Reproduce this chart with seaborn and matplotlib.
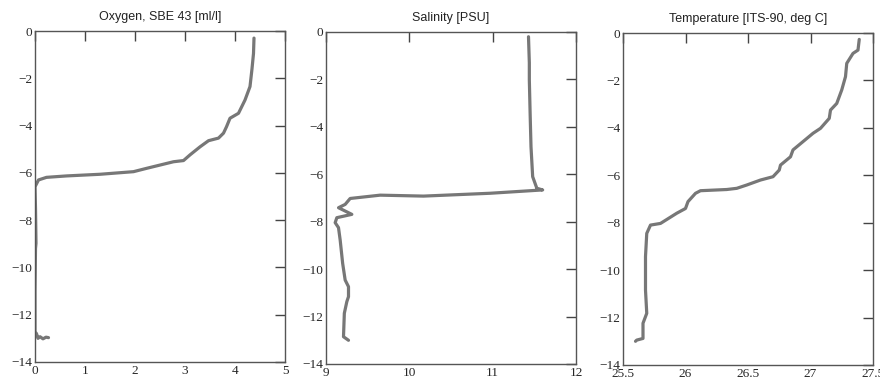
import numpy as np
import pandas as pd
import matplotlib
matplotlib.use("Agg")
import matplotlib.pyplot as plt
import seaborn as sns

# depth profiles (depth in m, negative down)
oxy_val = [4.38, 4.37, 4.34, 4.30, 4.20, 4.07, 3.90, 3.83, 3.77, 3.67, 3.47, 3.30, 3.10,
           2.97, 2.77, 2.50, 2.23, 1.97, 1.30, 0.63, 0.23, 0.07, 0.0, 0.01, 0.02, 0.01,
           0.0, 0.0, 0.03, 0.06, 0.10, 0.16, 0.22, 0.27]
oxy_depth = [-0.30, -0.95, -1.6, -2.35, -2.92, -3.48, -3.69, -4.05, -4.32, -4.53, -4.64, -4.90, -5.24,
             -5.48, -5.53, -5.67, -5.81, -5.95, -6.06, -6.13, -6.19, -6.30, -6.59, -7.5, -8.98, -9.2,
             -11.0, -12.72, -12.80, -13.00, -12.93, -13.02, -12.95, -12.97]

sal_val = [11.43, 11.44, 11.44, 11.45, 11.46, 11.48, 11.53, 11.60, 10.97, 10.17, 9.65, 9.29,
           9.23, 9.15, 9.31, 9.13, 9.11, 9.15, 9.17, 9.20, 9.23, 9.27, 9.27, 9.25, 9.22,
           9.21, 9.27]
sal_depth = [-0.20, -1.30, -2.02, -3.5, -4.84, -6.10, -6.59, -6.66, -6.80, -6.92, -6.88, -7.02,
             -7.27, -7.41, -7.69, -7.83, -8.04, -8.25, -8.77, -9.76, -10.46, -10.74, -11.16, -11.37, -11.86,
             -12.85, -13.00]

temp_val = [27.39, 27.38, 27.34, 27.29, 27.28, 27.25, 27.21, 27.16, 27.15, 27.08, 27.02, 26.94,
            26.86, 26.84, 26.76, 26.75, 26.70, 26.60, 26.49, 26.41, 26.33, 26.12, 26.08, 26.02,
            26.00, 25.93, 25.80, 25.72, 25.69, 25.68, 25.68, 25.69, 25.66, 25.66, 25.61, 25.60]
temp_depth = [-0.27, -0.72, -0.86, -1.28, -1.84, -2.40, -2.97, -3.25, -3.60, -4.02, -4.23, -4.58,
              -4.93, -5.22, -5.57, -5.78, -6.06, -6.20, -6.41, -6.55, -6.60, -6.65, -6.76, -7.11,
              -7.40, -7.60, -8.03, -8.10, -8.45, -9.43, -10.84, -11.82, -12.24, -12.88, -12.95, -13.00]

titles = ["Oxygen, SBE 43 [ml/l]", "Salinity [PSU]", "Temperature [ITS-90, deg C]"]
x_ticks = [[0, 1, 2, 3, 4, 5], [9, 10, 11, 12], [25.5, 26, 26.5, 27, 27.5]]
x_labels = [["0", "1", "2", "3", "4", "5"], ["9", "10", "11", "12"], ["25.5", "26", "26.5", "27", "27.5"]]
y_ticks = [0, -2, -4, -6, -8, -10, -12, -14]

sns.set_style("white")
plt.rcParams["font.family"] = ["Liberation Sans", "DejaVu Sans"]

fig = plt.figure(figsize=(8.8, 3.83), dpi=100)
W, H = 880, 383
boxes = [(35, 31, 285, 362), (326, 32, 576, 364), (623, 33, 873, 365)]
series = [(oxy_val, oxy_depth), (sal_val, sal_depth), (temp_val, temp_depth)]

for i, (l, t, r, b) in enumerate(boxes):
    ax = fig.add_axes([l / W, 1 - b / H, (r - l) / W, (b - t) / H])
    vals, depth = series[i]
    df = pd.DataFrame({"v": vals, "d": depth})
    sns.lineplot(data=df, x="v", y="d", sort=False, ax=ax, color="#777777",
                 linewidth=2.3, estimator=None)
    ax.set_xlim(x_ticks[i][0], x_ticks[i][-1])
    ax.set_ylim(-14, 0)
    ax.set_xticks(x_ticks[i])
    ax.set_xticklabels(x_labels[i], family="Liberation Serif", fontsize=9.5)
    ax.set_yticks(y_ticks)
    ax.set_yticklabels(["0"] + ["\u2212%d" % abs(v) for v in y_ticks[1:]],
                       family="Liberation Serif", fontsize=9.5)
    ax.tick_params(direction="in", length=7, width=1, top=True, right=True,
                   color="#444444", pad=2)
    ax.set_xlabel("")
    ax.set_ylabel("")
    for s in ax.spines.values():
        s.set_color("#555555")
        s.set_linewidth(1.0)
    ax.set_title(titles[i], fontsize=9, pad=8, color="#222222")

fig.savefig("out.png", dpi=100)
